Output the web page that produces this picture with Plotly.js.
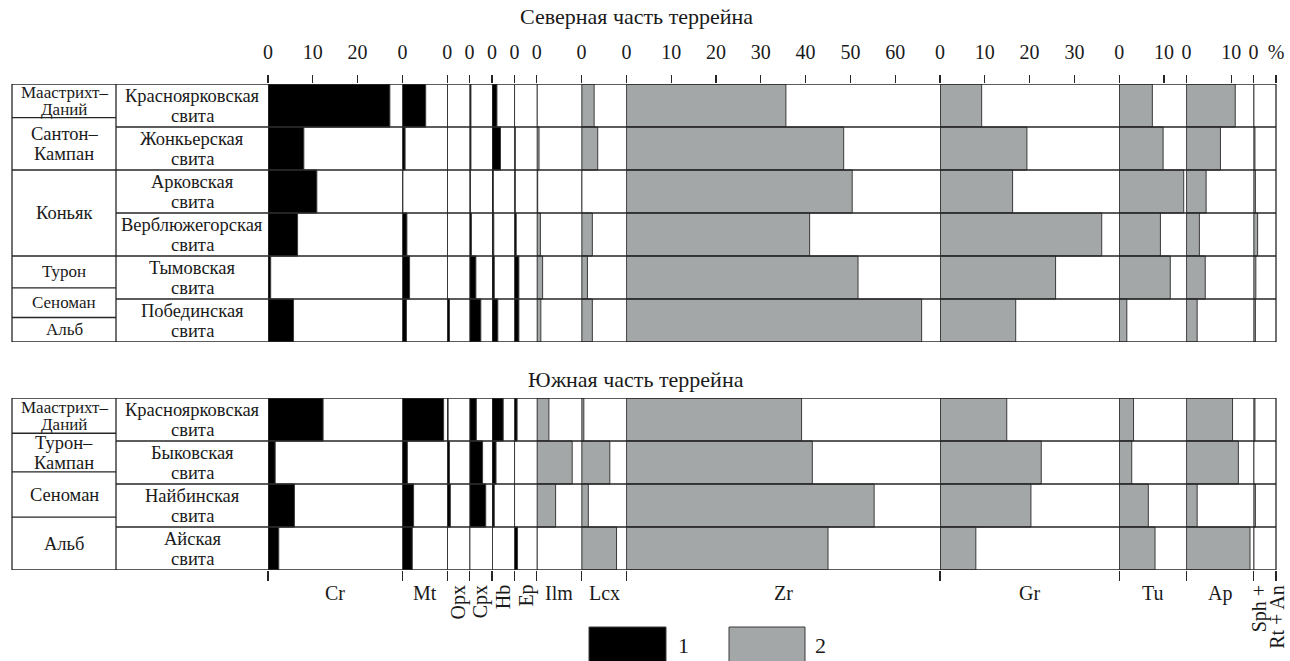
<!DOCTYPE html>
<html><head><meta charset="utf-8">
<script src="https://cdn.plot.ly/plotly-3.0.1.min.js"></script>
<style>html,body{margin:0;padding:0;background:#fff}#chart{width:1290px;height:661px}</style>
</head><body><div id="chart"></div>
<script>
// ---------------- DATA ----------------
const minerals = ['Cr','Mt','Opx','Cpx','Hb','Ep','Ilm','Lcx','Zr','Gr','Tu','Ap','Sph + Rt + An'];
const mineralGroup = [1,1,1,1,1,1,2,2,2,2,2,2,2];           // legend: 1 = black, 2 = grey
const scaleMax = [30,10,5,5,5,5,10,10,70,40,15,15,5];       // % scale of each column
const topTicks = [[0,10,20],[0],[0],[0],[0],[0],[0],[0],[0,10,20,30,40,50,60],[0,10,20,30],[0,10],[0,10],[0,5]];
const topTickText = [['0','10','20'],['0'],['0'],['0'],['0'],['0'],['0'],['0'],['0','10','20','30','40','50','60'],['0','10','20','30'],['0','10'],['0','10'],['0','%']];

const titleNorth = 'Северная часть террейна';
const titleSouth = 'Южная часть террейна';

const northSuites = ['Красноярковская свита','Жонкьерская свита','Арковская свита','Верблюжегорская свита','Тымовская свита','Побединская свита'];
//                     Cr   Mt   Opx  Cpx  Hb   Ep   Ilm  Lcx  Zr    Gr    Tu    Ap    Sph
const nKrasnoyark  = [27.2, 5.2, 0.0, 0.3, 1.1, 0.0, 0.0, 2.8, 35.6,  9.3,  7.4, 10.9, 0.0];
const nZhonkier    = [ 8.0, 0.6, 0.0, 0.3, 1.9, 0.2, 0.5, 3.6, 48.5, 19.4,  9.8,  7.6, 0.3];
const nArkovo      = [10.9, 0.1, 0.0, 0.2, 0.3, 0.2, 0.2, 0.0, 50.4, 16.2, 14.4,  4.4, 0.4];
const nVerblyuzhe  = [ 6.6, 1.0, 0.0, 0.4, 0.4, 0.4, 0.8, 2.4, 40.9, 36.1,  9.2,  2.9, 0.9];
const nTymovo      = [ 0.6, 1.6, 0.0, 1.4, 0.5, 1.0, 1.3, 1.3, 51.7, 25.8, 11.4,  4.2, 0.5];
const nPobedino    = [ 5.7, 0.9, 0.5, 2.5, 1.3, 1.0, 0.9, 2.4, 65.9, 16.9,  1.7,  2.4, 0.4];
const northRows = [nKrasnoyark, nZhonkier, nArkovo, nVerblyuzhe, nTymovo, nPobedino];
const northAges = ['Маастрихт–Даний','Сантон–Кампан','Коньяк','Турон','Сеноман','Альб'];
const northAgeBounds = [-0.5, 0.28, 1.5, 3.5, 4.24, 4.93, 5.5];   // in suite-row units

const southSuites = ['Красноярковская свита','Быковская свита','Найбинская свита','Айская свита'];
const sKrasnoyark  = [12.3, 9.2, 0.2, 1.5, 2.5, 0.6, 2.7, 0.5, 39.1, 14.9,  3.2, 10.3, 0.3];
const sBykov       = [ 1.6, 1.1, 0.5, 2.9, 0.9, 0.0, 7.9, 6.3, 41.5, 22.6,  2.8, 11.6, 0.0];
const sNaiba       = [ 5.9, 2.5, 0.7, 3.6, 0.5, 0.0, 4.2, 1.5, 55.3, 20.3,  6.5,  2.4, 0.4];
const sAi          = [ 2.4, 2.2, 0.0, 0.0, 0.0, 0.7, 0.0, 7.8, 45.0,  8.0,  8.0, 14.2, 0.0];
const southRows = [sKrasnoyark, sBykov, sNaiba, sAi];
const southAges = ['Маастрихт–Даний','Турон–Кампан','Сеноман','Альб'];
const southAgeBounds = [-0.5, 0.32, 1.22, 2.27, 3.5];

const legendLabels = ['1','2'];

// ---------------- LAYOUT GEOMETRY ----------------
const W = 1290, H = 661;
const fx = p => p / W, fy = p => 1 - p / H;
const FONT = "'Liberation Serif','Times New Roman',serif";
const INK = '#1a1a1a', LINE = '#262626';
const fill = {1: '#000000', 2: '#a4a7a7'};
const tableL = 12, ageR = 116, dataL = 268, dataR = 1276;
const panels = [
  {suites: northSuites, rows: northRows, ages: northAges, bounds: northAgeBounds, top: 84, bottom: 342, yid: 'y', ykey: 'yaxis', axOff: 0},
  {suites: southSuites, rows: southRows, ages: southAges, bounds: southAgeBounds, top: 398, bottom: 570, yid: 'y2', ykey: 'yaxis2', axOff: 13}
];
const totalPct = scaleMax.reduce((a, b) => a + b, 0);
const ppp = (dataR - dataL) / totalPct;
const colStart = [], colEnd = [];
{ let c = 0; scaleMax.forEach(m => { colStart.push(dataL + c * ppp); c += m; colEnd.push(dataL + c * ppp); }); }

const layout = {
  width: W, height: H, margin: {l: 0, r: 0, t: 0, b: 0},
  paper_bgcolor: '#fff', plot_bgcolor: 'rgba(0,0,0,0)',
  showlegend: false, shapes: [], annotations: [], hovermode: false
};
const traces = [];
const axName = n => n === 1 ? 'x' : 'x' + n;
const axKey = n => n === 1 ? 'xaxis' : 'xaxis' + n;

panels.forEach((P, pi) => {
  const n = P.suites.length;
  layout[P.ykey] = {
    domain: [fy(P.bottom), fy(P.top)], type: 'category', categoryarray: P.suites,
    range: [n - 0.5, -0.5], showticklabels: false, showgrid: false, zeroline: false, showline: false,
    ticks: '', fixedrange: true
  };
  minerals.forEach((m, i) => {
    const an = i + 1 + P.axOff;
    const ax = {
      domain: [fx(colStart[i]), fx(colEnd[i])], range: [0, scaleMax[i]], anchor: P.yid,
      showgrid: false, zeroline: false, showline: false, fixedrange: true, tickangle: 0,
      ticks: 'outside', tickcolor: LINE, tickwidth: 1.2, tickmode: 'array'
    };
    if (pi === 0) {
      Object.assign(ax, {side: 'top', tickvals: topTicks[i], ticktext: topTickText[i], ticklen: 8,
        tickfont: {family: FONT, size: 20, color: INK}, ticklabelstandoff: 8});
    } else {
      Object.assign(ax, {side: 'bottom', tickvals: i === minerals.length - 1 ? [0, scaleMax[i]] : [0],
        ticklen: 10, showticklabels: false});
    }
    layout[axKey(an)] = ax;
    traces.push({
      type: 'bar', orientation: 'h', xaxis: axName(an), yaxis: P.yid,
      y: P.suites, x: P.rows.map(r => r[i]), width: 1,
      marker: {color: fill[mineralGroup[i]], line: {color: '#3a3a3a', width: 1}},
      hoverinfo: 'skip'
    });
    layout.shapes.push({type: 'line', xref: axName(an), yref: P.yid, x0: 0, x1: 0, y0: -0.5, y1: n - 0.5,
      line: {color: LINE, width: 1.3}});
  });
  const lineS = (x0, x1, y0, y1) => layout.shapes.push({type: 'line', xref: 'paper', yref: P.yid,
    x0: fx(x0), x1: fx(x1), y0, y1, line: {color: LINE, width: 1.3}});
  lineS(tableL, dataR, -0.5, -0.5); lineS(tableL, dataR, n - 0.5, n - 0.5);
  lineS(tableL, tableL, -0.5, n - 0.5); lineS(ageR, ageR, -0.5, n - 0.5); lineS(dataR, dataR, -0.5, n - 0.5);
  for (let k = 1; k < n; k++) lineS(ageR, dataR, k - 0.5, k - 0.5);
  for (let k = 1; k < P.bounds.length - 1; k++) lineS(tableL, ageR, P.bounds[k], P.bounds[k]);
  // suite names
  P.suites.forEach((s, k) => {
    const parts = s.split(' ');
    parts.forEach((t, j) => layout.annotations.push({xref: 'paper', yref: P.yid, x: fx((ageR + dataL) / 2), y: k,
      text: t, showarrow: false, xanchor: 'center', yanchor: 'middle', yshift: (parts.length - 1) / 2 * 20 - j * 20,
      font: {family: FONT, size: 18.5, color: INK}}));
  });
  // age names
  P.ages.forEach((a, k) => {
    const parts = a.includes('–') ? [a.split('–')[0] + '–', a.split('–')[1]] : [a];
    const yc = (P.bounds[k] + P.bounds[k + 1]) / 2;
    const span = P.bounds[k + 1] - P.bounds[k];
    const tight = span < 0.85;
    const gap = tight ? 17 : 20;
    parts.forEach((t, j) => layout.annotations.push({xref: 'paper', yref: P.yid, x: fx((tableL + ageR) / 2), y: yc,
      text: t, showarrow: false, xanchor: 'center', yanchor: 'middle', yshift: (parts.length - 1) / 2 * gap - j * gap,
      font: {family: FONT, size: tight ? 17 : 18.5, color: INK}}));
  });
});

[[titleNorth, 16], [titleSouth, 379]].forEach(([t, y]) => layout.annotations.push({xref: 'paper', yref: 'paper',
  x: fx(636), y: fy(y), text: t, showarrow: false, xanchor: 'center', yanchor: 'middle',
  font: {family: FONT, size: 22, color: INK}}));

minerals.forEach((m, i) => {
  const cx = (colStart[i] + colEnd[i]) / 2;
  if (scaleMax[i] >= 10) {
    layout.annotations.push({xref: 'paper', yref: 'paper', x: fx(cx), y: fy(593), text: m, showarrow: false,
      xanchor: 'center', yanchor: 'middle', font: {family: FONT, size: 20, color: INK}});
  } else if (m.includes('+')) {
    const a = m.split(' + ');
    [[a[0] + ' +', -5], [a[1] + ' + ' + a[2], 12]].forEach(([t, dx]) => layout.annotations.push({xref: 'paper', yref: 'paper',
      x: fx(cx + dx), y: fy(583), text: t, showarrow: false, textangle: -90, xanchor: 'center', yanchor: 'top',
      font: {family: FONT, size: 20, color: INK}}));
  } else {
    layout.annotations.push({xref: 'paper', yref: 'paper', x: fx(cx), y: fy(583), text: m, showarrow: false,
      textangle: -90, xanchor: 'center', yanchor: 'top', font: {family: FONT, size: 20, color: INK}});
  }
});

[[589, 666, 1, 683], [729, 805, 2, 820]].forEach(([x0, x1, g, tx], k) => {
  layout.shapes.push({type: 'rect', xref: 'paper', yref: 'paper', x0: fx(x0), x1: fx(x1), y0: fy(662), y1: fy(627),
    fillcolor: fill[g], line: {color: '#3a3a3a', width: 1}});
  layout.annotations.push({xref: 'paper', yref: 'paper', x: fx(tx), y: fy(645), text: legendLabels[k], showarrow: false,
    xanchor: 'center', yanchor: 'middle', font: {family: FONT, size: 22, color: INK}});
});

Plotly.newPlot('chart', traces, layout, {staticPlot: true, displayModeBar: false});
</script></body></html>
